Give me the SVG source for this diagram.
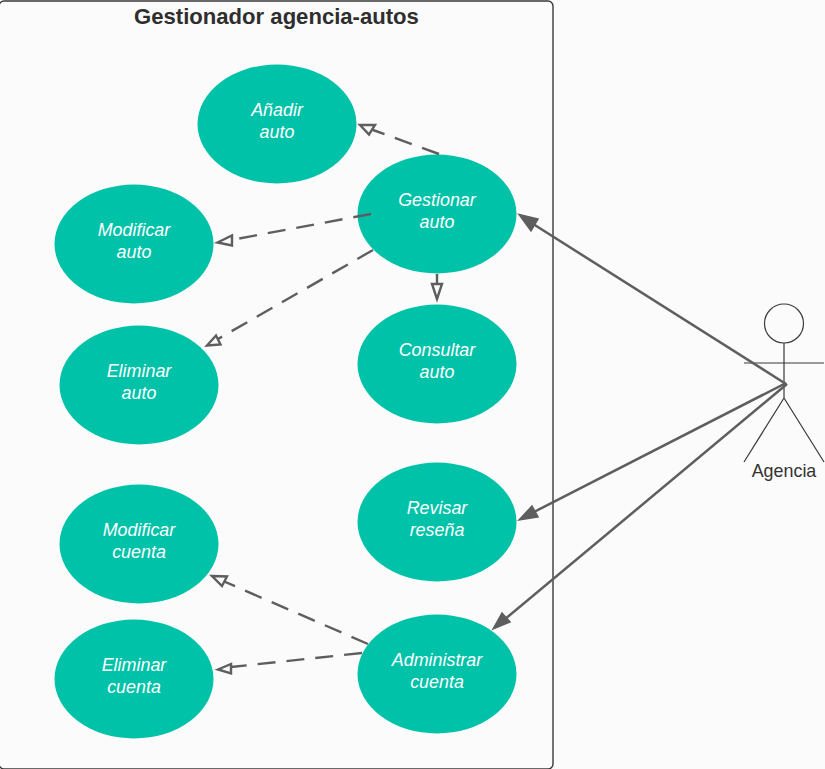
<svg xmlns="http://www.w3.org/2000/svg" width="825" height="769" viewBox="0 0 825 769">
<style>
text{font-family:"Liberation Sans",Arial,sans-serif}
.uc ellipse{fill:#00c2a8}
.uc text{fill:#fff;font-size:17.9px;font-style:italic;text-anchor:middle}
.dep{fill:none;stroke:#5e5e5e;stroke-width:2.4;stroke-dasharray:18 11}
.hd{fill:#fbfbfb;stroke:#5e5e5e;stroke-width:2.4;stroke-linejoin:miter}
.assoc{stroke:#5e5e5e;stroke-width:2.5;fill:none}
.ah{fill:#5e5e5e;stroke:#5e5e5e;stroke-width:1.5}
.act{fill:none;stroke:#3a3a3a;stroke-width:1.2}
</style>
<rect width="825" height="769" fill="#fbfbfb"/>
<g id="boundary">
<rect x="-1" y="1" width="554" height="768" rx="5" fill="#fbfbfb" stroke="#3a3a3a" stroke-width="1.4"/>
<text x="276.500" y="24" font-size="22.100" font-weight="bold" fill="#2e2e2e" text-anchor="middle">Gestionador agencia-autos</text>
</g>
<g id="uc-anadir" class="uc"><ellipse cx="277" cy="124" rx="79.500" ry="59.500"/><text x="277" y="116">Añadir</text><text x="277" y="137.500">auto</text></g>
<g id="uc-gestionar" class="uc"><ellipse cx="437" cy="214" rx="79.500" ry="59.500"/><text x="437" y="206">Gestionar</text><text x="437" y="227.500">auto</text></g>
<g id="uc-modificar-auto" class="uc"><ellipse cx="134" cy="244" rx="79.500" ry="59.500"/><text x="134" y="236">Modificar</text><text x="134" y="257.500">auto</text></g>
<g id="uc-eliminar-auto" class="uc"><ellipse cx="139" cy="385" rx="79.500" ry="59.500"/><text x="139" y="377">Eliminar</text><text x="139" y="398.500">auto</text></g>
<g id="uc-consultar" class="uc"><ellipse cx="437" cy="364" rx="79.500" ry="59.500"/><text x="437" y="356">Consultar</text><text x="437" y="377.500">auto</text></g>
<g id="uc-revisar" class="uc"><ellipse cx="437" cy="522" rx="79.500" ry="59.500"/><text x="437" y="514">Revisar</text><text x="437" y="535.500">reseña</text></g>
<g id="uc-modificar-cuenta" class="uc"><ellipse cx="139" cy="544" rx="79.500" ry="59.500"/><text x="139" y="536">Modificar</text><text x="139" y="557.500">cuenta</text></g>
<g id="uc-eliminar-cuenta" class="uc"><ellipse cx="134" cy="679" rx="79.500" ry="59.500"/><text x="134" y="671">Eliminar</text><text x="134" y="692.500">cuenta</text></g>
<g id="uc-administrar" class="uc"><ellipse cx="437" cy="674" rx="79.500" ry="59.500"/><text x="437" y="666">Administrar</text><text x="437" y="687.500">cuenta</text></g>
<g id="actor-agencia">
<circle class="act" cx="784" cy="323.500" r="19.500"/>
<path class="act" d="M784 343V398M744 363H824M784 398L744 462M784 398L824 462"/>
<text x="784" y="477" font-size="17.900" fill="#333" text-anchor="middle">Agencia</text>
</g>
<g id="connectors">
<path class="dep" d="M439 154L373 130"/><path class="hd" d="M360 125L375 125L369 134.500Z"/>
<path class="dep" d="M371 214L231 240"/><path class="hd" d="M217.500 242.500L232 235.500L232 245.500Z"/>
<path class="dep" d="M373 250L218 339"/><path class="hd" d="M207 345.500L216 335.500L220.500 344.500Z"/>
<path class="dep" d="M437 274V286"/><path class="hd" d="M437 299L432 284H442Z"/>
<path class="dep" d="M368 644L223 581"/><path class="hd" d="M212 576L227 576.500L222 586Z"/>
<path class="dep" d="M362 653L231 667"/><path class="hd" d="M218 669.500L231 664L231 673.500Z"/>
<path class="assoc" d="M786 384L530 222"/><path class="ah" d="M519 214.500L538 219L531 231Z"/>
<path class="assoc" d="M786 383L532 513"/><path class="ah" d="M519 520L532 506L538 517Z"/>
<path class="assoc" d="M787 384L504 620"/><path class="ah" d="M493 629L502 613L510 622Z"/>
</g>
</svg>
